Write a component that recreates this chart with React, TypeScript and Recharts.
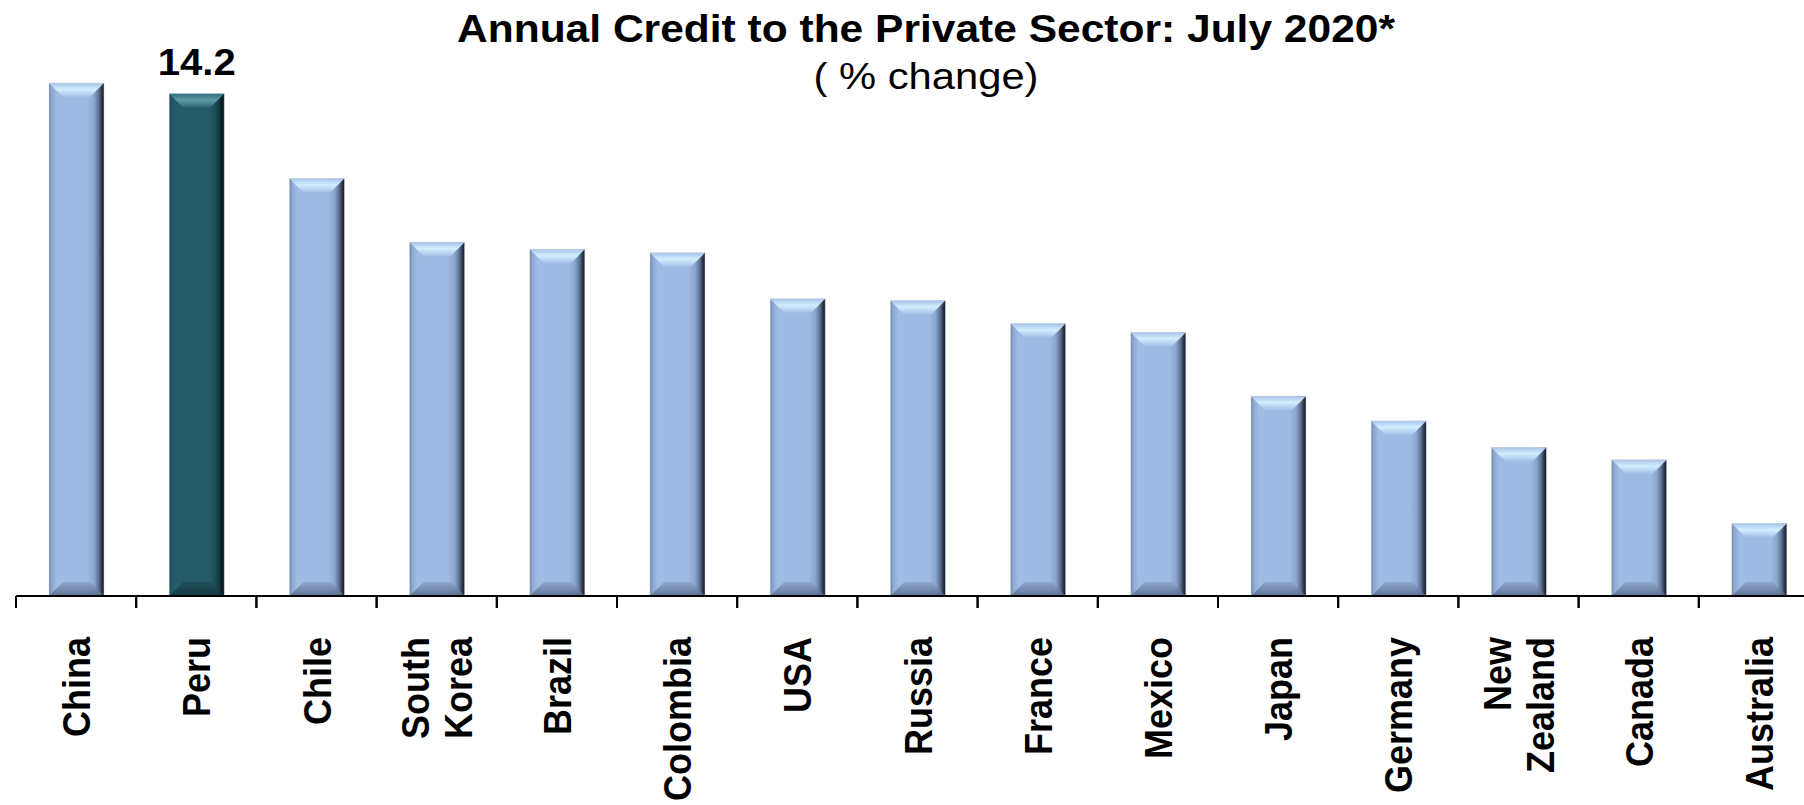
import React from 'react'
import { BarChart, Bar, XAxis, YAxis, LabelList } from 'recharts'

const COUNTRIES = [
  'China', 'Peru', 'Chile', 'South Korea', 'Brazil', 'Colombia', 'USA', 'Russia',
  'France', 'Mexico', 'Japan', 'Germany', 'New Zealand', 'Canada', 'Australia'
]
const CREDIT_GROWTH = [14.5, 14.2, 11.8, 10.0, 9.8, 9.7, 8.4, 8.35, 7.7, 7.45, 5.65, 4.95, 4.2, 3.85, 2.05]
const VALUE_LABELS = ['', '14.2', '', '', '', '', '', '', '', '', '', '', '', '', '']
const HIGHLIGHT = 'Peru'
const Y_DOMAIN = [0, 16]

const TITLE = 'Annual Credit to the Private Sector: July 2020*'
const SUBTITLE = '( % change)'

const FONT = '"Liberation Sans", Arial, sans-serif'
const STRETCH = 1.09

const data = COUNTRIES.map((country, i) => ({
  country,
  value: CREDIT_GROWTH[i],
  label: VALUE_LABELS[i],
}))

const BLUE = {
  body: [
    ['0', '#6C84A8'], ['0.05', '#8EA9D1'], ['0.14', '#9EBBE3'], ['0.7', '#9EBBE3'],
    ['0.82', '#8CA6CC'], ['0.9', '#5E7497'], ['0.96', '#2C3645'], ['1', '#171C24'],
  ],
  top: [['0', '#A7C3E8'], ['0.45', '#D3EEFF'], ['1', '#A2BFE6']],
  bottom: [['0', '#8BA5CB'], ['1', '#56678A']],
}
const TEAL = {
  body: [
    ['0', '#1A4550'], ['0.05', '#225665'], ['0.14', '#255C6A'], ['0.7', '#255C6A'],
    ['0.82', '#1F4F5B'], ['0.9', '#163B44'], ['0.96', '#0B1E23'], ['1', '#061114'],
  ],
  top: [['0', '#2D6A78'], ['0.45', '#5E9DA8'], ['1', '#2A6573']],
  bottom: [['0', '#1E4F5B'], ['1', '#123239']],
}

function BevelBar(props: any) {
  const { x, y, width, height, index, payload } = props
  if (!height || height <= 0) return null
  const pal = payload.country === HIGHLIGHT ? TEAL : BLUE
  const b = Math.min(14, height / 2)
  const id = `bar-${index}`
  return (
    <g>
      <defs>
        <linearGradient id={`${id}-body`} x1="0" y1="0" x2="1" y2="0">
          {pal.body.map(([o, c]) => <stop key={o} offset={o} stopColor={c} />)}
        </linearGradient>
        <linearGradient id={`${id}-top`} x1="0" y1="0" x2="0" y2="1">
          {pal.top.map(([o, c]) => <stop key={o} offset={o} stopColor={c} />)}
        </linearGradient>
        <linearGradient id={`${id}-bot`} x1="0" y1="0" x2="0" y2="1">
          {pal.bottom.map(([o, c]) => <stop key={o} offset={o} stopColor={c} />)}
        </linearGradient>
      </defs>
      <rect x={x} y={y} width={width} height={height} fill={`url(#${id}-body)`} />
      <polygon
        points={`${x},${y} ${x + width},${y} ${x + width - b},${y + b} ${x + b},${y + b}`}
        fill={`url(#${id}-top)`}
      />
      <polygon
        points={`${x},${y + height} ${x + width},${y + height} ${x + width - b},${y + height - b} ${x + b},${y + height - b}`}
        fill={`url(#${id}-bot)`}
        opacity={0.85}
      />
      <rect x={x} y={y} width={width} height={height} fill="none" stroke="#C9D3E0" strokeWidth={0.8} opacity={0.6} />
    </g>
  )
}

function CountryTick(props: any) {
  const { x, y, payload } = props
  const lines = String(payload.value).split(' ')
  const gap = 19.7
  const start = 13 - ((lines.length - 1) * gap)
  // tick marks go on the band edges
  const half = payload.offset ?? 0
  return (
    <g>
      <line x1={x - half} x2={x - half} y1={y} y2={y + 12} stroke="#000" strokeWidth={2} />
      <line x1={x + half} x2={x + half} y1={y} y2={y + 12} stroke="#000" strokeWidth={2} />
      <g transform={`translate(${x},${y + 41}) rotate(-90) scale(1,${STRETCH})`}>
        <text textAnchor="end" fontFamily={FONT} fontWeight="bold" fontSize={36} fill="#000">
          {lines.map((ln, i) => (
            <tspan key={i} x={0} y={start + i * gap * 2}>{ln}</tspan>
          ))}
        </text>
      </g>
    </g>
  )
}

function ValueLabel(props: any) {
  const { x, y, width, value } = props
  if (!value) return null
  return (
    <text
      x={x + width / 2}
      y={y - 19}
      textAnchor="middle"
      fontFamily={FONT}
      fontWeight="bold"
      fontSize={36}
      textLength={78}
      lengthAdjust="spacingAndGlyphs"
      fill="#000"
    >
      {value}
    </text>
  )
}

export default function App() {
  return (
    <div style={{ position: 'absolute', left: 0, top: 0, width: 1804, height: 805, overflow: 'hidden', background: '#fff' }}>
      <svg width={1804} height={120} style={{ position: 'absolute', left: 0, top: 0, pointerEvents: 'none', zIndex: 2 }}>
        <text x={926} y={42} textAnchor="middle" fontFamily={FONT} fontWeight="bold" fontSize={39}
          textLength={938} lengthAdjust="spacingAndGlyphs">{TITLE}</text>
        <text x={926} y={89} textAnchor="middle" fontFamily={FONT} fontSize={37}
          textLength={225} lengthAdjust="spacingAndGlyphs">{SUBTITLE}</text>
      </svg>
      <BarChart
        width={1830}
        height={805}
        data={data}
        margin={{ top: 30, right: 11, bottom: 9, left: 16 }}
        barSize={55}
      >
        <XAxis
          dataKey="country"
          interval={0}
          height={200}
          axisLine={{ stroke: '#000', strokeWidth: 2 }}
          tickLine={false}
          tickSize={0}
          tickMargin={0}
          tick={<CountryTick />}
        />
        <YAxis hide domain={Y_DOMAIN} />
        <Bar dataKey="value" shape={<BevelBar />} isAnimationActive={false}>
          <LabelList dataKey="label" content={<ValueLabel />} />
        </Bar>
      </BarChart>
    </div>
  )
}
